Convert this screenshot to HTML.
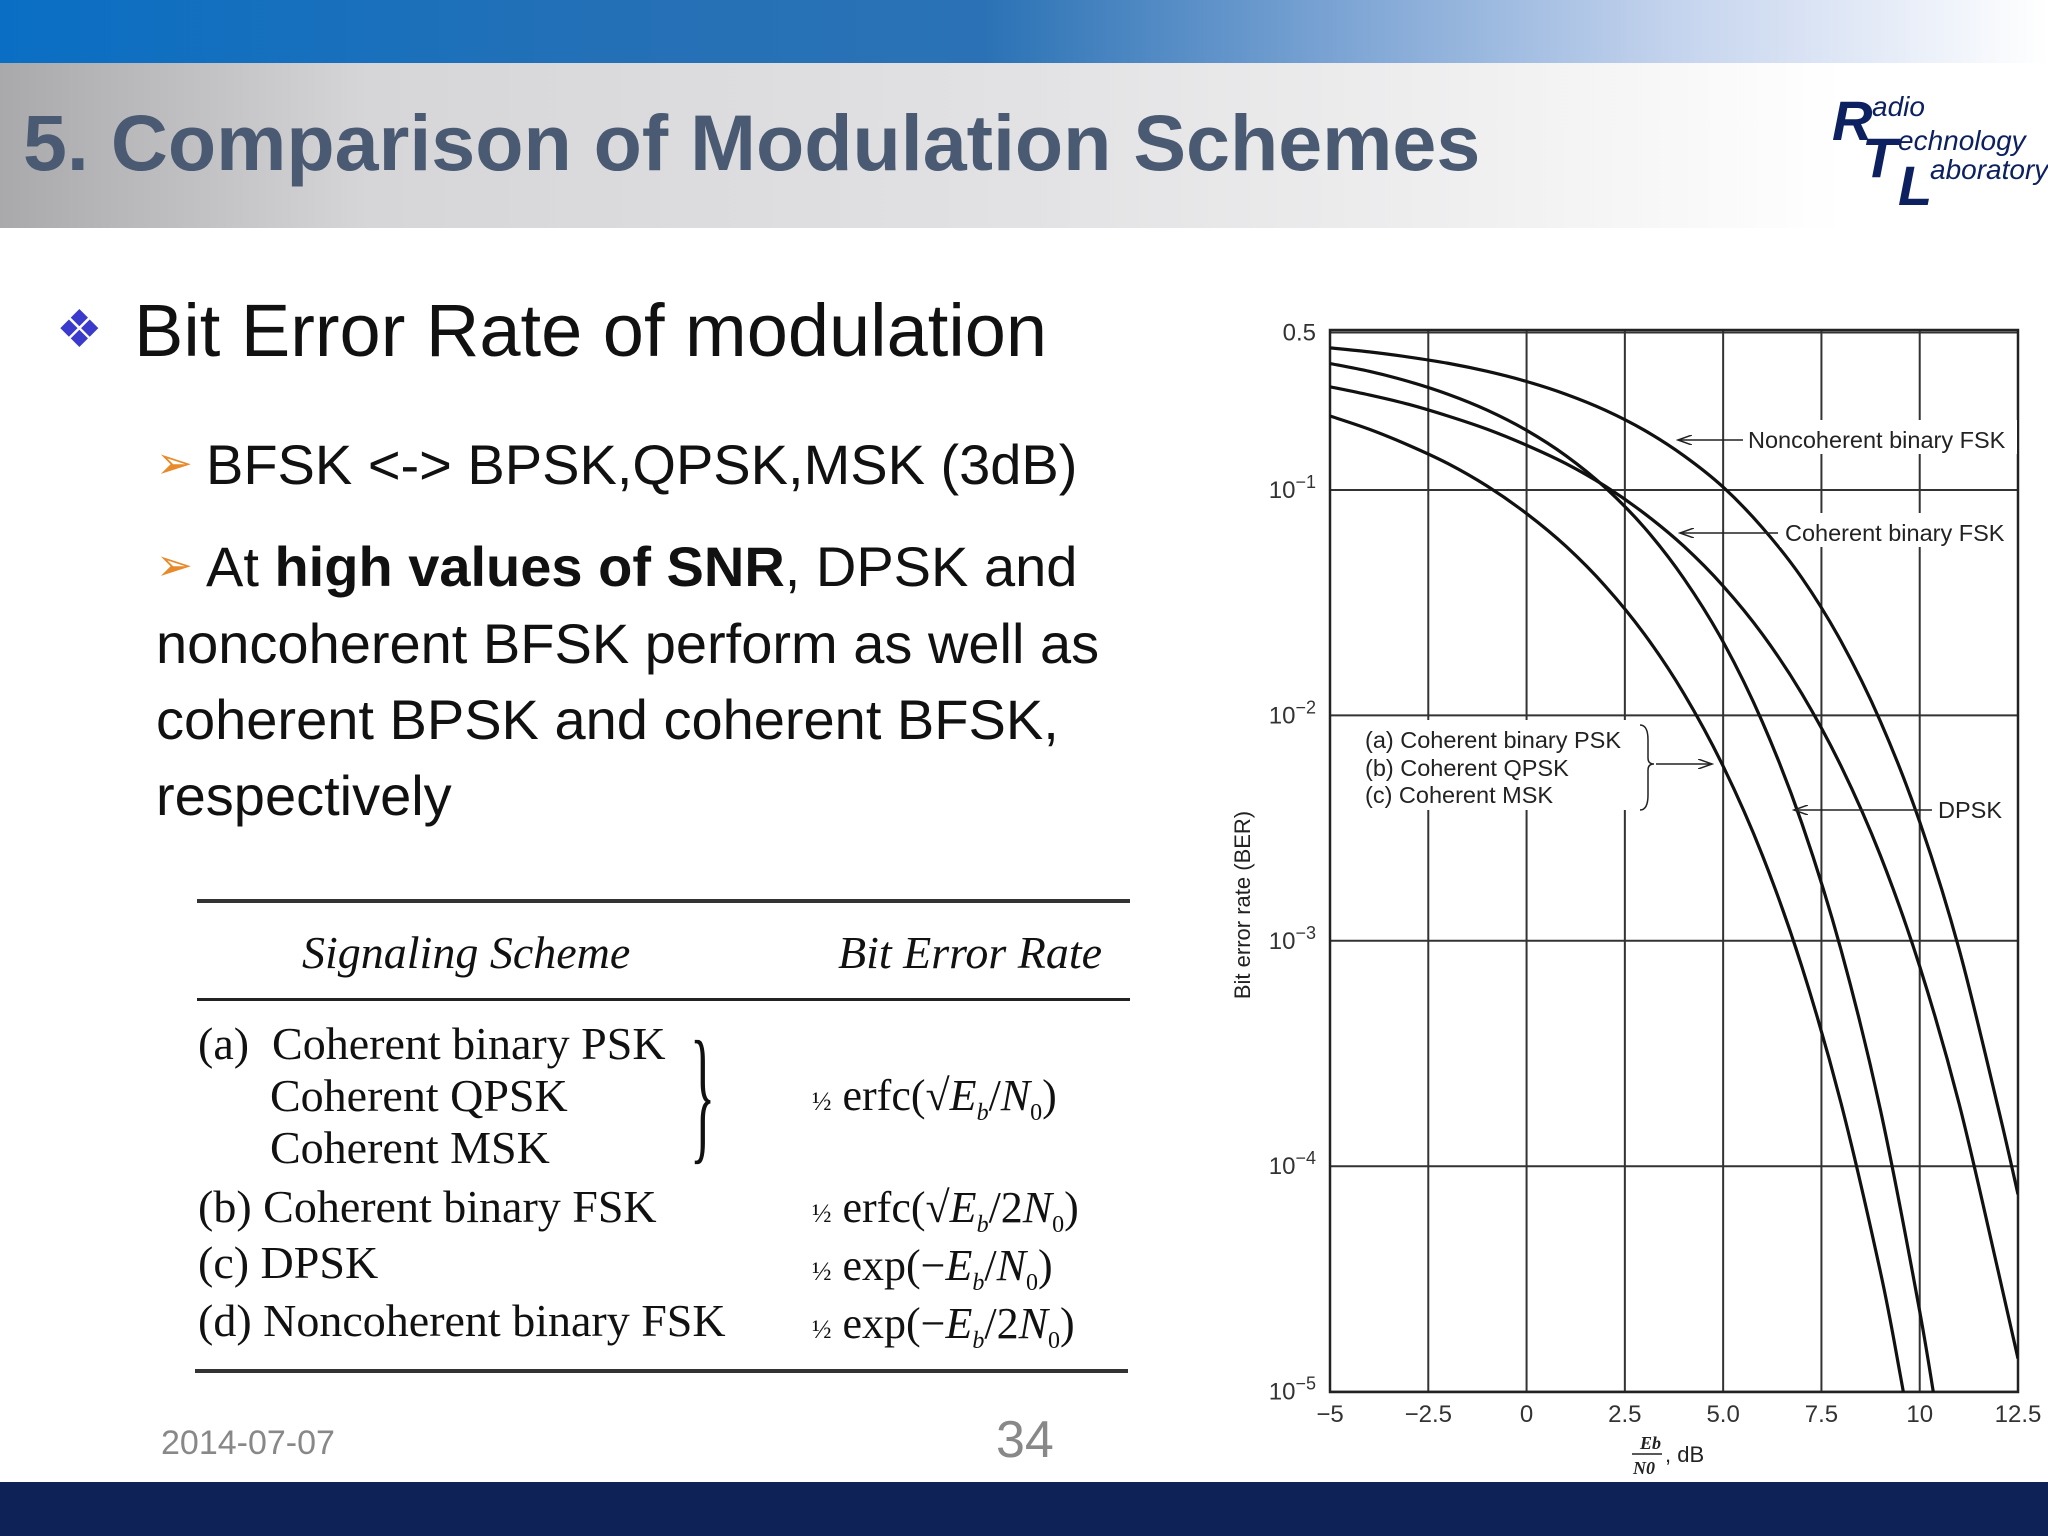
<!DOCTYPE html>
<html><head><meta charset="utf-8">
<style>
html,body{margin:0;padding:0;}
body{width:2048px;height:1536px;position:relative;overflow:hidden;background:#fff;font-family:"Liberation Sans",sans-serif;}
.abs{position:absolute;white-space:nowrap;}
#topband{left:0;top:0;width:2048px;height:63px;background:linear-gradient(90deg,#0a6fc4 0%,#2470b6 30%,#2a72b5 48%,#7aa3d3 65%,#c5d4ee 82%,#ffffff 100%);}
#greyband{left:0;top:63px;width:2048px;height:165px;background:linear-gradient(90deg,#a9a9ab 0%,#d6d6d8 18%,#e2e2e4 50%,#eeeeef 70%,#ffffff 90%);}
#title{left:23px;top:97px;font-size:79px;font-weight:bold;color:#4a5a72;}
.logo{color:#0d2160;font-style:italic;}
.big{font-size:56px;font-weight:bold;}
.sm{font-size:28px;}
.serif{font-family:"Liberation Serif",serif;color:#111;}
#bottom{left:0;top:1482px;width:2048px;height:54px;background:#0f2257;}
</style></head><body>
<div class="abs" id="topband"></div>
<div class="abs" id="greyband"></div>
<div class="abs" id="title">5. Comparison of Modulation Schemes</div>
<div>
<div class="abs logo big" style="left:1832px;top:88px;">R</div>
<div class="abs logo sm" style="left:1872px;top:91px;">adio</div>
<div class="abs logo big" style="left:1862px;top:125px;">T</div>
<div class="abs logo sm" style="left:1898px;top:125px;">echnology</div>
<div class="abs logo big" style="left:1898px;top:153px;">L</div>
<div class="abs logo sm" style="left:1930px;top:154px;">aboratory</div>
</div>

<div class="abs" style="left:56px;top:300px;font-size:52px;color:#3a3acc;">❖</div>
<div class="abs" style="left:134px;top:288px;font-size:74px;color:#111;">Bit Error Rate of modulation</div>
<div class="abs" style="left:156px;top:438px;font-size:44px;color:#e88a2a;">➢</div>
<div class="abs" style="left:206px;top:432px;font-size:56px;color:#111;">BFSK &lt;-&gt; BPSK,QPSK,MSK (3dB)</div>
<div class="abs" style="left:156px;top:540px;font-size:44px;color:#e88a2a;">➢</div>
<div class="abs" style="left:206px;top:534px;font-size:56px;color:#111;">At <b>high values of SNR</b>, DPSK and</div>
<div class="abs" style="left:156px;top:606px;font-size:56px;color:#111;line-height:76px;white-space:normal;width:1100px;">noncoherent BFSK perform as well as<br>coherent BPSK and coherent BFSK,<br>respectively</div>

<div>
<div class="abs" style="left:197px;top:899px;width:933px;height:4px;background:#333;"></div>
<div class="abs serif" style="left:302px;top:926px;font-size:46px;font-style:italic;">Signaling Scheme</div>
<div class="abs serif" style="left:838px;top:926px;font-size:46px;font-style:italic;">Bit Error Rate</div>
<div class="abs" style="left:197px;top:998px;width:933px;height:3px;background:#222;"></div>
<div class="abs serif" style="left:198px;top:1018px;font-size:46px;line-height:52px;">(a)&nbsp; Coherent binary PSK<br><span style="margin-left:72px">Coherent QPSK</span><br><span style="margin-left:72px">Coherent MSK</span></div>
<div class="abs serif" style="left:690px;top:1014px;font-size:150px;line-height:160px;transform:scaleX(0.35);transform-origin:left top;">}</div>
<div class="abs serif" style="left:198px;top:1180px;font-size:46px;">(b) Coherent binary FSK</div>
<div class="abs serif" style="left:198px;top:1236px;font-size:46px;">(c) DPSK</div>
<div class="abs serif" style="left:198px;top:1294px;font-size:46px;">(d) Noncoherent binary FSK</div>
<div class="abs serif" style="left:812px;top:1070px;font-size:44px;"><span style="font-size:26px">½</span> erfc(√<i>E<sub style="font-size:24px">b</sub></i>/<i>N</i><sub style="font-size:24px">0</sub>)</div>
<div class="abs serif" style="left:812px;top:1182px;font-size:44px;"><span style="font-size:26px">½</span> erfc(√<i>E<sub style="font-size:24px">b</sub></i>/2<i>N</i><sub style="font-size:24px">0</sub>)</div>
<div class="abs serif" style="left:812px;top:1240px;font-size:44px;"><span style="font-size:26px">½</span> exp(−<i>E<sub style="font-size:24px">b</sub></i>/<i>N</i><sub style="font-size:24px">0</sub>)</div>
<div class="abs serif" style="left:812px;top:1298px;font-size:44px;"><span style="font-size:26px">½</span> exp(−<i>E<sub style="font-size:24px">b</sub></i>/2<i>N</i><sub style="font-size:24px">0</sub>)</div>
<div class="abs" style="left:195px;top:1369px;width:933px;height:4px;background:#333;"></div>
</div>

<div class="abs" style="left:161px;top:1424px;font-size:34px;color:#888;">2014-07-07</div>
<div class="abs" style="left:996px;top:1410px;font-size:52px;color:#888;">34</div>
<div class="abs" id="bottom"></div>

<svg class="abs" id="chart" style="left:0;top:0" width="2048" height="1536">
<defs><clipPath id="pc"><rect x="1330" y="330" width="688" height="1062"/></clipPath>
<marker id="ah" markerWidth="16" markerHeight="10" refX="14" refY="5" orient="auto" markerUnits="userSpaceOnUse"><path d="M0,0 L14,5 L0,10" fill="none" stroke="#222" stroke-width="1.5"/></marker></defs>
<g id="grid"></g><g id="curves" clip-path="url(#pc)"></g><g id="labels"></g>
</svg>
<script>
const xTicks=[-5,-2.5,0,2.5,5,7.5,10,12.5];
const xTickLabels=["−5","−2.5","0","2.5","5.0","7.5","10","12.5"];
const yTicks=[0.5,1e-1,1e-2,1e-3,1e-4,1e-5];
const yTickLabels=[["0.5",""],["10","−1"],["10","−2"],["10","−3"],["10","−4"],["10","−5"]];
const bpskX=[-5,-4,-3,-2,-1,0,1,2,3,4,5,6,7,8,9,9.5,9.8];
const bpskY=[0.213,0.186,0.158,0.131,0.104,0.0786,0.0563,0.0375,0.0229,0.0125,0.00595,0.00239,0.00077,0.00019,3.4e-5,1.2e-5,6e-6];
const dpskX=[-5,-4,-3,-2,-1,0,1,2,3,4,5,6,7,8,9,10,10.5];
const dpskY=[0.364,0.336,0.303,0.266,0.226,0.184,0.142,0.1025,0.068,0.0405,0.0212,0.00933,0.00333,0.00091,0.000178,2.27e-5,6.7e-6];
const cfskX=[-5,-4,-3,-2,-1,0,1,2,3,4,5,6,7,8,9,10,11,12,12.5];
const cfskY=[0.287,0.264,0.24,0.213,0.186,0.158,0.131,0.104,0.0786,0.0563,0.0375,0.0229,0.0125,0.00595,0.00239,0.00077,0.00019,3.4e-5,1.4e-5];
const nfskX=[-5,-4,-3,-2,-1,0,1,2,3,4,5,6,7,8,9,10,11,12,12.5];
const nfskY=[0.427,0.41,0.389,0.365,0.336,0.303,0.266,0.226,0.184,0.142,0.103,0.068,0.0408,0.0213,0.00941,0.00337,0.00092,0.00018,7.5e-5];

const L=1330,R=2018,T=330,B=1392;
const sx=v=>L+(v+5)/17.5*(R-L);
const sy=v=>490-(Math.log10(v)+1)*225.4;
const NS='http://www.w3.org/2000/svg';
function mk(tag,attrs,parent,txt){const e=document.createElementNS(NS,tag);for(const k in attrs)e.setAttribute(k,attrs[k]);if(txt!==undefined)e.textContent=txt;parent.appendChild(e);return e;}
const grid=document.getElementById('grid'),curves=document.getElementById('curves'),labels=document.getElementById('labels');
xTicks.forEach((t,i)=>{
 const ln=mk('line',{x1:sx(t),x2:sx(t),y1:T,y2:B,stroke:'#333','stroke-width':2},grid);
 
 
 const tx=mk('text',{x:sx(t),y:B+30,'font-size':24,'text-anchor':'middle',fill:'#333','font-family':'Liberation Sans, sans-serif'},labels,xTickLabels[i]);
 
 
});
yTicks.forEach((t,i)=>{
 const ln=mk('line',{x1:L,x2:R,y1:sy(t),y2:sy(t),stroke:'#333','stroke-width':2},grid);
 
 
 const tx=mk('text',{x:L-14,y:sy(t)+8,'font-size':24,'text-anchor':'end',fill:'#333','font-family':'Liberation Sans, sans-serif'},labels);
 
 
 mk('tspan',{},tx,yTickLabels[i][0]);
 if(yTickLabels[i][1]){mk('tspan',{dy:-10,'font-size':18},tx,yTickLabels[i][1]);}
});
const fr=mk('rect',{x:L,y:T,width:R-L,height:B-T,fill:'none',stroke:'#222','stroke-width':2.5},grid);


function pathFor(xs,ys){
 const p=xs.map((x,i)=>[sx(x),sy(ys[i])]);
 let d='M'+p[0][0]+','+p[0][1];
 for(let i=0;i<p.length-1;i++){
  const p0=p[Math.max(0,i-1)],p1=p[i],p2=p[i+1],p3=p[Math.min(p.length-1,i+2)];
  const c1=[p1[0]+(p2[0]-p0[0])/6,p1[1]+(p2[1]-p0[1])/6],c2=[p2[0]-(p3[0]-p1[0])/6,p2[1]-(p3[1]-p1[1])/6];
  d+=' C'+c1[0]+','+c1[1]+' '+c2[0]+','+c2[1]+' '+p2[0]+','+p2[1];
 }
 return d;
}
[['curve-bpsk',bpskX,bpskY],['curve-dpsk',dpskX,dpskY],['curve-coherent-fsk',cfskX,cfskY],['curve-noncoherent-fsk',nfskX,nfskY]].forEach(s=>{
 const pth=mk('path',{d:pathFor(s[1],s[2]),fill:'none',stroke:'#111','stroke-width':3.2},curves);
 
 
});
function ann(name,x,y,txt){const t=mk('text',{x:x,y:y,'font-size':23.5,fill:'#222','font-family':'Liberation Sans, sans-serif'},labels,txt);return t;}
function arr(name,x1,y1,x2,y2){const l=mk('line',{x1:x1,y1:y1,x2:x2,y2:y2,stroke:'#222','stroke-width':1.5,'marker-end':'url(#ah)'},labels);}
mk('rect',{x:1745,y:420,width:272,height:34,fill:'#fff'},labels);
mk('rect',{x:1780,y:513,width:236,height:34,fill:'#fff'},labels);
mk('rect',{x:1932,y:790,width:82,height:34,fill:'#fff'},labels);
mk('rect',{x:1360,y:720,width:280,height:90,fill:'#fff'},labels);
ann('label-noncoherent-fsk',1748,448,'Noncoherent binary FSK');
arr('arrow-noncoherent-fsk',1743,440,1678,440);
ann('label-coherent-fsk',1785,541,'Coherent binary FSK');
arr('arrow-coherent-fsk',1778,533,1680,533);
ann('label-psk-a',1365,748,'(a)  Coherent binary PSK');
ann('label-psk-b',1365,776,'(b)  Coherent QPSK');
ann('label-psk-c',1365,803,'(c)  Coherent MSK');
mk('path',{d:'M1640,725 Q1648,725 1648,740 L1648,758 Q1648,764 1654,764 Q1648,764 1648,770 L1648,795 Q1648,810 1640,810',fill:'none',stroke:'#222','stroke-width':1.5},labels);
arr('arrow-psk',1656,764,1712,764);
ann('label-dpsk',1938,818,'DPSK');
arr('arrow-dpsk',1932,810,1794,810);
const yt=mk('text',{x:0,y:0,'font-size':22,'text-anchor':'middle',fill:'#222','font-family':'Liberation Sans, sans-serif',transform:'translate(1250,905) rotate(-90)'},labels,'Bit error rate (BER)');


const xt=mk('g',{},labels);


mk('text',{x:1640,y:1449,'font-size':18,'font-style':'italic','font-weight':'bold','font-family':'Liberation Serif, serif',fill:'#222'},xt,'Eb');
mk('line',{x1:1632,x2:1662,y1:1454,y2:1454,stroke:'#222','stroke-width':1.5},xt);
mk('text',{x:1633,y:1474,'font-size':18,'font-style':'italic','font-weight':'bold','font-family':'Liberation Serif, serif',fill:'#222'},xt,'N0');
mk('text',{x:1665,y:1462,'font-size':22,'font-family':'Liberation Sans, sans-serif',fill:'#222'},xt,', dB');
</script>
</body></html>
